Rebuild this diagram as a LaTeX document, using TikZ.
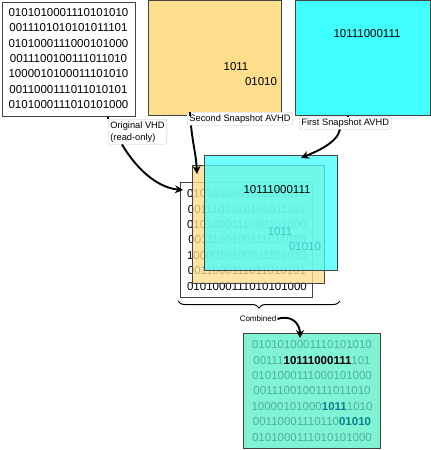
\documentclass[tikz,border=0pt]{standalone}
\usepackage{fontspec}
\setmainfont{Liberation Sans}
\usetikzlibrary{decorations.pathreplacing,arrows.meta,calc}
\definecolor{yel}{RGB}{253,222,140}
\definecolor{cya}{RGB}{64,255,255}
\definecolor{aqua}{RGB}{128,243,212}
\definecolor{edge}{RGB}{68,68,68}
\definecolor{fadet}{RGB}{78,178,158}
\definecolor{tealt}{RGB}{10,130,140}
\begin{document}
\begin{tikzpicture}[x=1pt,y=-1pt,
  panel/.style={draw=edge,line width=0.9pt,inner sep=0pt,anchor=north west},
  bits/.style={font=\fontsize{11.5}{15.4}\selectfont,align=center,inner sep=0pt},
  small/.style={font=\fontsize{11.5}{14}\selectfont,inner sep=0pt},
  lab/.style={draw=gray!45,fill=white,rounded corners=2pt,font=\fontsize{9.3}{12}\selectfont,align=left,inner sep=2.2pt},
  arr/.style={line width=1.9pt,-{Stealth[length=8pt,width=8pt]}},
  tick/.style={line width=1.2pt}]
\useasboundingbox (0,0) rectangle (431,450);
\newcommand{\bitrows}{0101010001110101010\\0011101010101011101\\0101000111000101000\\0011100100111011010\\1000010100011101010\\0011000111011010101\\0101000111010101000}
% top row
\node[panel,fill=white,minimum width=133pt,minimum height=114pt] (orig) at (2,2) {};
\node[bits] (origtxt) at (68.5,58.5) {\bitrows};
\node[panel,fill=yel,minimum width=133pt,minimum height=115pt] (yel) at (148,0) {};
\node[small] (y1) at (236,67) {1011};
\node[small] (y2) at (261,82) {01010};
\node[panel,fill=cya,minimum width=135pt,minimum height=115pt] (cya) at (295,0) {};
\node[small] (c1) at (367,34) {10111000111};
% labels
\node[lab,anchor=north west] (lOrig) at (108,119) {Original VHD\\(read-only)};
\node[lab,anchor=north west] (lSec) at (187,112) {Second Snapshot AVHD};
\node[lab,anchor=north west] (lFirst) at (299,116) {First Snapshot AVHD};
% stack
\node[panel,fill=white,minimum width=132pt,minimum height=115pt] (wst) at (180,182) {};
\node[bits] (wsttxt) at (247,240) {\bitrows};
\node[panel,fill=yel,fill opacity=0.78,minimum width=132pt,minimum height=118pt] (yst) at (192,165) {};
\node[small,text=black!80] (ys1) at (280,232) {1011};
\node[small,text=black!80] (ys2) at (305,247) {01010};
\node[panel,fill=cya,fill opacity=0.75,minimum width=133pt,minimum height=115pt] (cst) at (204,155) {};
\node[small] (cs1) at (277,190) {10111000111};
% brace
\draw[line width=1pt,decorate,decoration={brace,amplitude=7pt,mirror}] (178,301) -- (340,301);
\node[font=\fontsize{8}{10}\selectfont,inner sep=1pt] (lComb) at (258,319) {Combined};
% combined
\node[panel,fill=aqua,minimum width=137pt,minimum height=115pt] (comb) at (243,333) {};
\node[bits,text=fadet] (combtxt) at (312,391) {0101010001110101010\\00111\textbf{\textcolor{black}{10111000111}}101\\0101000111000101000\\0011100100111011010\\10000101000\textbf{\textcolor{tealt}{1011}}1010\\00110001110110\textbf{\textcolor{tealt}{01010}}\\0101000111010101000};
% connectors
\coordinate (o1) at ($(orig.south west)+(106,0)$);
\draw[tick] (o1) -- (o1 |- lOrig.north);
\coordinate (s1) at ($(yel.south west)+(42,0)$);
\draw[tick] (s1) -- (s1 |- lSec.north);
\coordinate (f1) at ($(cya.south west)+(53,0)$);
\draw[tick] (f1) -- (f1 |- lFirst.north);
\draw[arr] ($(lOrig.south west)+(14,0)$) .. controls +(18,30) and +(-22,-2) .. ($(wst.north west)+(3,8)$);
\draw[arr] ($(lSec.south west)+(4,0)$) .. controls +(2,20) and +(-1,-20) .. ($(yst.north west)+(5,9)$);
\draw[arr] ($(lFirst.south west)+(41,0)$) .. controls +(-3,14) and +(14,-6) .. ($(cst.north west)+(97,3)$);
\draw[arr] (lComb.east) .. controls +(14,-5) and +(0,-14) .. ($(comb.north west)+(57,5)$);
\end{tikzpicture}
\end{document}
